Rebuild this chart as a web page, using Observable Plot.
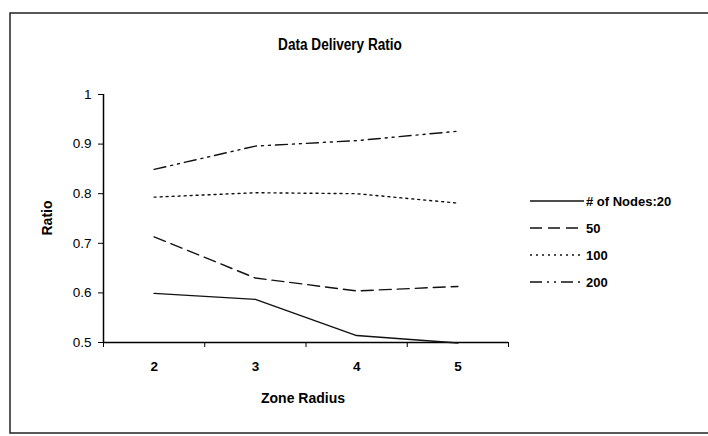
<!DOCTYPE html>
<html>
<head>
<meta charset="utf-8">
<script src="https://cdn.jsdelivr.net/npm/d3@7"></script>
<script src="https://cdn.jsdelivr.net/npm/@observablehq/plot@0.6"></script>
<style>
  html, body { margin: 0; padding: 0; background: #fff; }
  svg { display: block; }
</style>
</head>
<body>
<div id="chart"></div>
<script>
const zoneRadius = [2, 3, 4, 5];
const nodes20  = [0.599, 0.587, 0.514, 0.499];
const nodes50  = [0.713, 0.630, 0.604, 0.613];
const nodes100 = [0.793, 0.802, 0.800, 0.781];
const nodes200 = [0.849, 0.896, 0.907, 0.926];
const seriesNames = ["# of Nodes:20", "50", "100", "200"];
const seriesDash = ["none", "12,6", "2,4", "12,5,2,5,2,5"];
const xTicks = [2, 3, 4, 5];
const xBoundaries = [1.5, 2.5, 3.5, 4.5, 5.5];
const yTicks = [0.5, 0.6, 0.7, 0.8, 0.9, 1];

const allSeries = [nodes20, nodes50, nodes100, nodes200];
const rows = allSeries.map(vals => zoneRadius.map((x, i) => ({x, y: vals[i]})));

const font = "'Liberation Sans', Arial, sans-serif";

const chart = Plot.plot({
  width: 708,
  height: 436,
  marginLeft: 103,
  marginRight: 200,
  marginTop: 94,
  marginBottom: 94,
  style: {fontFamily: font, background: "#fff", color: "#000"},
  x: {type: "linear", domain: [1.5, 5.5], axis: null},
  y: {type: "linear", domain: [0.5, 1], axis: null},
  marks: [
    Plot.ruleX([1.5], {y1: 0.5, y2: 1, stroke: "#000", strokeWidth: 1.5}),
    Plot.ruleY([0.5], {x1: 1.5, x2: 5.5, stroke: "#000", strokeWidth: 1.5}),
    Plot.axisY({ticks: yTicks, tickSize: 5, tickPadding: 7, tickFormat: d => String(d), fontSize: 13.5, stroke: "#000", label: null}),
    Plot.axisX({ticks: xBoundaries, tickSize: 5, tickFormat: () => "", stroke: "#000", label: null}),
    Plot.axisX({ticks: xTicks, tickSize: 0, tickPadding: 19, tickFormat: d => String(d), fontSize: 13.5, fontWeight: "bold", label: null}),
    ...rows.map((r, i) => Plot.line(r, {x: "x", y: "y", stroke: "#111", strokeWidth: 1.4, strokeDasharray: seriesDash[i] === "none" ? undefined : seriesDash[i]}))
  ]
});

const svg = d3.select(chart);
// outer border
svg.insert("rect", ":first-child")
  .attr("x", 10).attr("y", 13).attr("width", 710).attr("height", 420)
  .attr("fill", "none").attr("stroke", "#222").attr("stroke-width", 1.5);

svg.append("text")
  .attr("transform", "translate(340,50) scale(0.8,1)").attr("text-anchor", "middle")
  .attr("font-family", font)
  .attr("font-weight", "bold").attr("font-size", 17).attr("fill", "#000")
  .text("Data Delivery Ratio");

svg.append("text")
  .attr("transform", "translate(52,218) rotate(-90)").attr("text-anchor", "middle")
  .attr("font-family", font).attr("font-weight", "bold").attr("font-size", 14).attr("fill", "#000")
  .text("Ratio");

svg.append("text")
  .attr("x", 303).attr("y", 403).attr("text-anchor", "middle")
  .attr("font-family", font).attr("font-weight", "bold").attr("font-size", 14).attr("fill", "#000")
  .text("Zone Radius");

const legend = svg.append("g");
seriesNames.forEach((name, i) => {
  const y = 201 + i * 27;
  legend.append("line")
    .attr("x1", 530).attr("x2", 584).attr("y1", y).attr("y2", y)
    .attr("stroke", "#111").attr("stroke-width", 1.4)
    .attr("stroke-dasharray", seriesDash[i] === "none" ? null : seriesDash[i]);
  legend.append("text")
    .attr("x", 586).attr("y", y).attr("dy", "0.35em").attr("text-anchor", "start")
    .attr("font-family", font).attr("font-weight", "bold").attr("font-size", 13).attr("fill", "#000")
    .text(name);
});

document.getElementById("chart").appendChild(chart);
</script>
</body>
</html>
